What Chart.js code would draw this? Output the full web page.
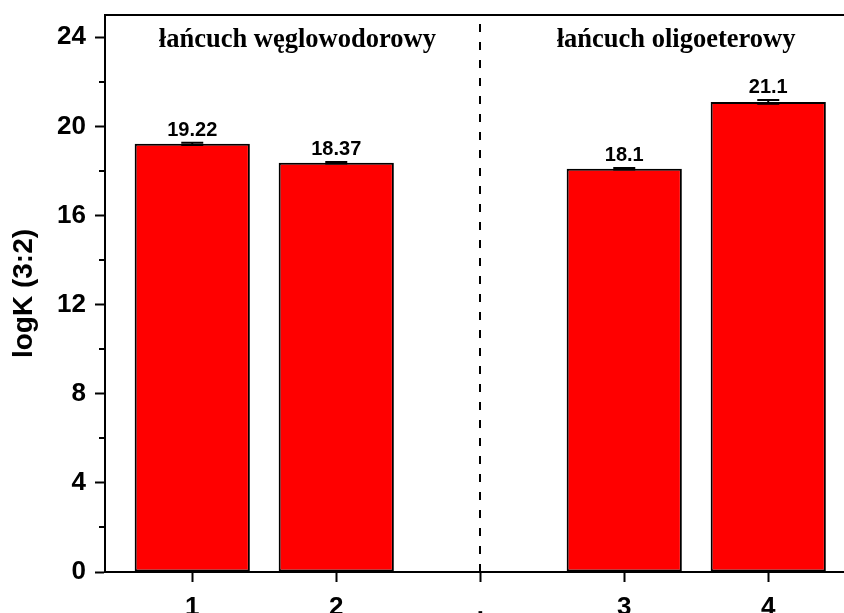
<!DOCTYPE html>
<html><head><meta charset="utf-8">
<script src="https://cdn.jsdelivr.net/npm/chart.js@4.4.1/dist/chart.umd.min.js"></script>
<style>html,body{margin:0;padding:0;background:#fff;overflow:hidden}#wrap{width:844px;height:613px;position:relative}</style>
</head><body><div id="wrap"><canvas id="c"></canvas></div>
<script>
const categories = ['1', '2', '.', '3', '4'];
const positions = [1, 2, 3, 4, 5];
const values = [19.22, 18.37, null, 18.1, 21.1];
const errors = [0.05, 0.03, null, 0.03, 0.08];
const valueLabels = ['19.22', '18.37', '', '18.1', '21.1'];
const yTicks = [0, 4, 8, 12, 16, 20, 24];
const yMinorTicks = [2, 6, 10, 14, 18, 22];
const groupLabels = ['łańcuch węglowodorowy', 'łańcuch oligoeterowy'];
const groupLabelX = [1.73, 4.36];
const groupLabelY = 23.58;
const separatorX = 3;
const yAxisTitle = 'logK (3:2)';

const SANS = '"Liberation Sans", Arial, sans-serif';
const SERIF = '"Liberation Serif", "Times New Roman", serif';

const barData = [];
positions.forEach((p, i) => { if (values[i] !== null) barData.push({ x: p, y: values[i] }); });

const extras = {
  id: 'extras',
  afterDatasetsDraw(chart) {
    const ctx = chart.ctx, xs = chart.scales.x, ys = chart.scales.y, ca = chart.chartArea;
    ctx.save();
    ctx.strokeStyle = '#000'; ctx.lineWidth = 2;
    ctx.beginPath(); ctx.moveTo(ca.left - 1, ca.top); ctx.lineTo(ca.right, ca.top); ctx.stroke();
    yMinorTicks.forEach(v => {
      const y = Math.round(ys.getPixelForValue(v));
      ctx.beginPath(); ctx.moveTo(ca.left - 6, y); ctx.lineTo(ca.left, y); ctx.stroke();
    });
    const sx = Math.round(xs.getPixelForValue(separatorX));
    ctx.setLineDash([8, 10]);
    ctx.beginPath(); ctx.moveTo(sx, ca.bottom); ctx.lineTo(sx, ca.top); ctx.stroke();
    ctx.setLineDash([]);
    positions.forEach((p, i) => {
      if (values[i] === null) return;
      const x = xs.getPixelForValue(p);
      const yt = ys.getPixelForValue(values[i] + errors[i]);
      const yb = ys.getPixelForValue(values[i] - errors[i]);
      ctx.lineWidth = 2;
      ctx.beginPath();
      ctx.moveTo(x, yt); ctx.lineTo(x, yb);
      ctx.moveTo(x - 11, yt); ctx.lineTo(x + 11, yt);
      ctx.moveTo(x - 11, yb); ctx.lineTo(x + 11, yb);
      ctx.stroke();
      ctx.fillStyle = '#000';
      ctx.font = 'bold 20px ' + SANS;
      ctx.textAlign = 'center'; ctx.textBaseline = 'alphabetic';
      ctx.fillText(valueLabels[i], x, yt - 7);
    });
    ctx.font = 'bold 26.5px ' + SERIF;
    ctx.textAlign = 'center'; ctx.textBaseline = 'alphabetic';
    groupLabels.forEach((t, i) => {
      ctx.fillText(t, xs.getPixelForValue(groupLabelX[i]), ys.getPixelForValue(groupLabelY));
    });
    ctx.restore();
  }
};

new Chart(document.getElementById('c'), {
  type: 'bar',
  data: {
    datasets: [{
      data: barData,
      backgroundColor: '#ff0000',
      borderColor: '#000',
      borderWidth: 2,
      borderSkipped: false,
      barPercentage: 0.8,
      categoryPercentage: 1.0
    }]
  },
  options: {
    responsive: true,
    maintainAspectRatio: false,
    animation: false,
    layout: { padding: { top: 15, left: 0, right: 0, bottom: 0 } },
    plugins: { legend: { display: false }, tooltip: { enabled: false } },
    scales: {
      x: {
        type: 'linear',
        offset: false,
        min: 0.394,
        max: 5.526,
        afterBuildTicks: s => { s.ticks = positions.map(v => ({ value: v })); },
        afterFit: s => { s.height = 41; s.paddingLeft = 0; s.paddingRight = 0; },
        ticks: {
          callback: (v, i) => categories[i],
          color: '#000',
          font: { family: SANS, size: 26, weight: 'bold' },
          padding: 10,
          maxRotation: 0,
          autoSkip: false
        },
        grid: { display: true, offset: false, drawOnChartArea: false, tickLength: 10, tickWidth: 2, tickColor: '#000' },
        border: { display: true, width: 2, color: '#000' }
      },
      y: {
        min: 0,
        max: 25,
        afterBuildTicks: s => { s.ticks = yTicks.map(v => ({ value: v })); },
        afterFit: s => { s.width = 105; s.paddingTop = 0; s.paddingBottom = 0; },
        ticks: {
          color: '#000',
          font: { family: SANS, size: 26, weight: 'bold' },
          padding: 9
        },
        grid: { display: true, drawOnChartArea: false, tickLength: 10, tickWidth: 2, tickColor: '#000' },
        border: { display: true, width: 2, color: '#000' },
        title: {
          display: true,
          text: yAxisTitle,
          color: '#000',
          font: { family: SANS, size: 28, weight: 'bold' },
          padding: { top: 7, bottom: 0 }
        }
      }
    }
  },
  plugins: [extras]
});
</script>
</body></html>
